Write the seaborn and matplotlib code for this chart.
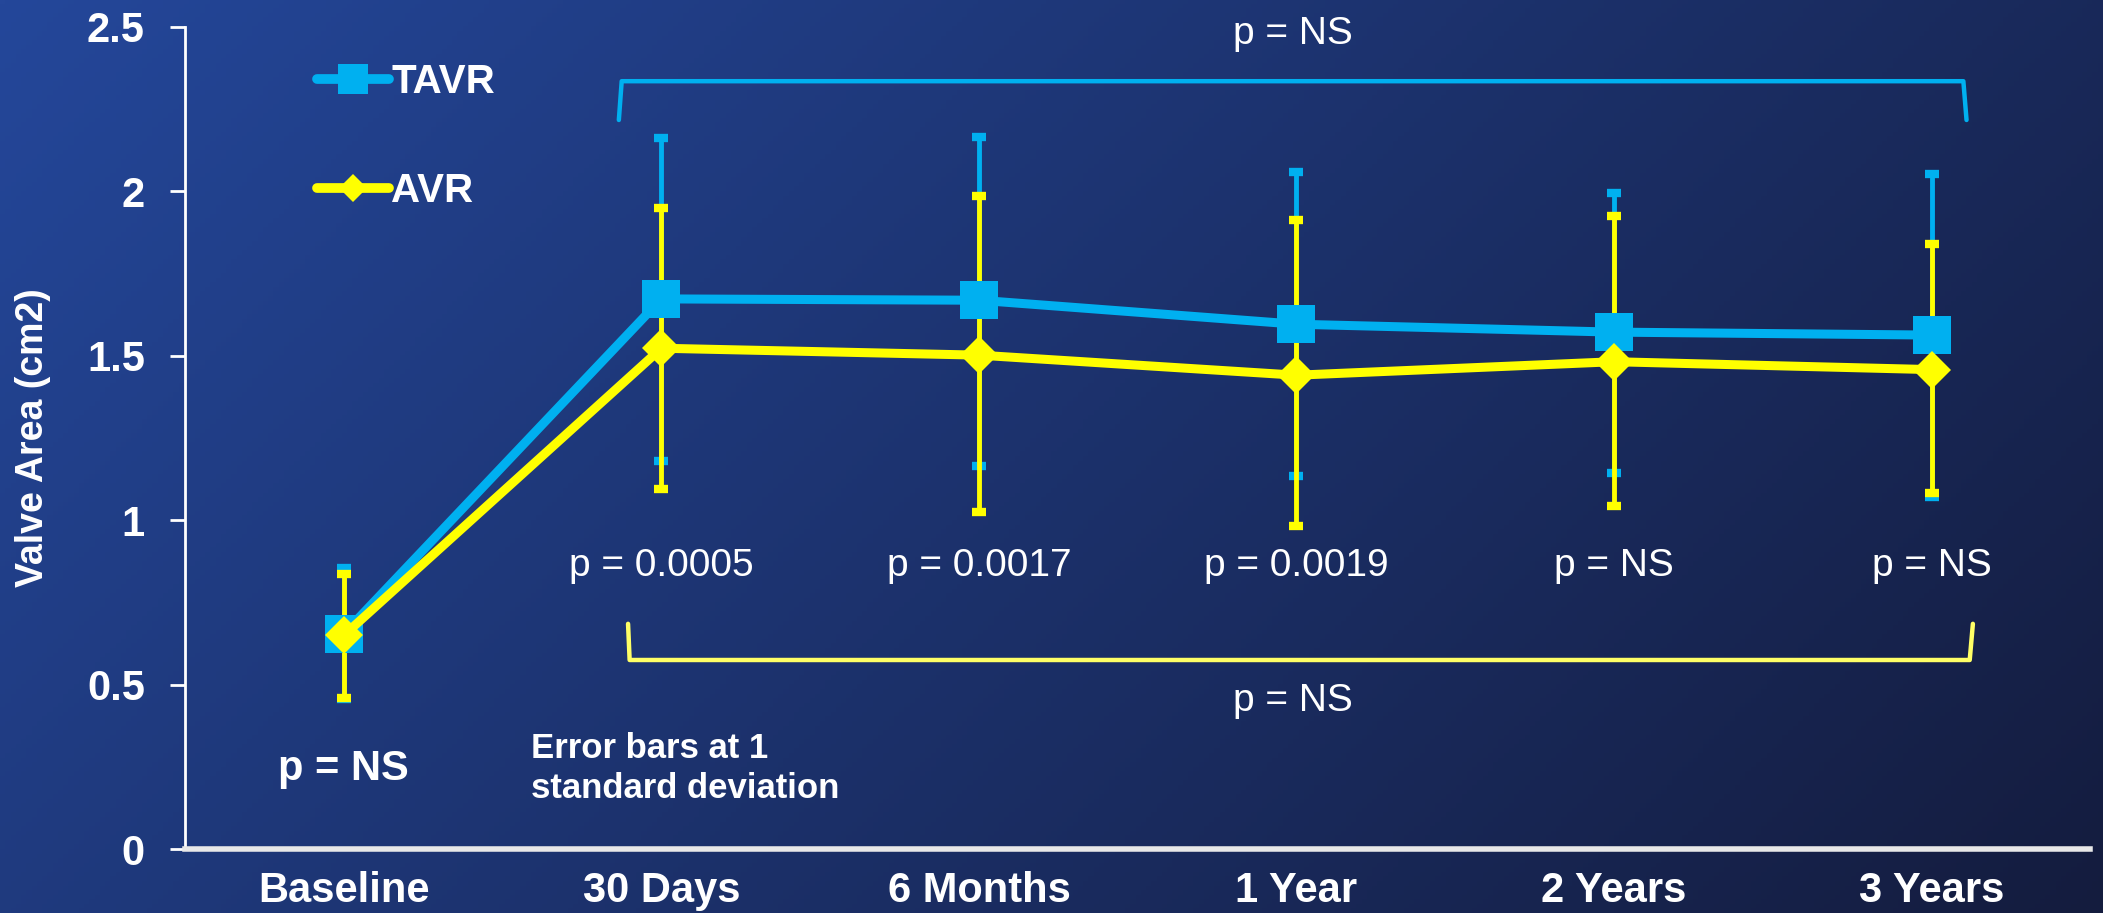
import matplotlib
matplotlib.use("Agg")
import matplotlib.pyplot as plt
import numpy as np
import pandas as pd
import seaborn as sns
from matplotlib import font_manager
from matplotlib.colors import to_hex
from matplotlib.lines import Line2D

# data
timepoints = ["Baseline", "30 Days", "6 Months", "1 Year", "2 Years", "3 Years"]
tavr_mean = [0.655, 1.673, 1.669, 1.596, 1.572, 1.563]
tavr_low = [0.455, 1.180, 1.165, 1.136, 1.144, 1.070]
tavr_high = [0.855, 2.162, 2.166, 2.060, 1.995, 2.052]
avr_mean = [0.650, 1.523, 1.502, 1.441, 1.482, 1.458]
avr_low = [0.460, 1.095, 1.026, 0.981, 1.042, 1.083]
avr_high = [0.835, 1.950, 1.987, 1.914, 1.926, 1.840]
p_values = ["", "p = 0.0005", "p = 0.0017", "p = 0.0019", "p = NS", "p = NS"]
y_ticks = [0, 0.5, 1, 1.5, 2, 2.5]
y_tick_labels = ["0", "0.5", "1", "1.5", "2", "2.5"]

CYAN = "#00b0f0"
YELLOW = "#ffff00"

sns.set_theme(style="white")
available = {f.name for f in font_manager.fontManager.ttflist}
narrow = "Liberation Sans Narrow" if "Liberation Sans Narrow" in available else "Liberation Sans"
plt.rcParams["font.family"] = ["Liberation Sans", "DejaVu Sans"]
narrow_size = 33 if narrow == "Liberation Sans Narrow" else 28

df = pd.DataFrame({
    "time": timepoints * 2,
    "area": tavr_mean + avr_mean,
    "group": ["TAVR"] * 6 + ["AVR"] * 6,
})

fig = plt.figure(figsize=(21.03, 9.13), dpi=100)

# diagonal blue gradient background
bg = fig.add_axes([0, 0, 1, 1], zorder=0)
gx, gy = np.meshgrid(np.linspace(0, 1, 400), np.linspace(0, 1, 200))
t = 0.7 * gx + 0.3 * gy
c0 = np.array([36, 71, 154]) / 255
c1 = np.array([20, 28, 62]) / 255
img = c0[None, None, :] * (1 - t[..., None]) + c1[None, None, :] * t[..., None]
bg.imshow(img, aspect="auto", extent=[0, 1, 0, 1], origin="upper")
bg.axis("off")

ax = fig.add_axes([0.088, 0.070, 0.906, 0.9005], zorder=1)
ax.set_facecolor("none")

x = np.arange(len(timepoints))
ax.errorbar(x, tavr_mean,
            yerr=[np.array(tavr_mean) - np.array(tavr_low), np.array(tavr_high) - np.array(tavr_mean)],
            fmt="none", ecolor=CYAN, elinewidth=3.5, capsize=5, capthick=6, zorder=2)
ax.errorbar(x, avr_mean,
            yerr=[np.array(avr_mean) - np.array(avr_low), np.array(avr_high) - np.array(avr_mean)],
            fmt="none", ecolor=YELLOW, elinewidth=3.5, capsize=5, capthick=6, zorder=3)

sns.lineplot(data=df, x="time", y="area", hue="group", style="group",
             markers={"TAVR": "s", "AVR": "D"}, dashes=False,
             palette={"TAVR": CYAN, "AVR": YELLOW}, linewidth=6.5,
             markersize=28, markeredgewidth=0, sort=False, legend=False, ax=ax, zorder=4)
for ln in ax.get_lines():
    if to_hex(ln.get_color()) == YELLOW:
        ln.set_zorder(5)
        ln.set_markersize(19)

ax.set_xlim(-0.5, 5.5)
ax.set_ylim(0, 2.5)
ax.set_yticks(y_ticks)
ax.set_yticklabels(y_tick_labels)
ax.set_xticks(x)
ax.set_xticklabels(timepoints)
ax.set_xticks(np.arange(-0.5, 6, 1), minor=True)
ax.tick_params(axis="x", which="major", length=0, pad=16, labelsize=30, labelcolor="white")
ax.tick_params(axis="x", which="minor", length=11, width=2, color="white", direction="out")
ax.tick_params(axis="y", which="major", length=11, width=2, color="white", direction="out",
               pad=18, labelsize=30, labelcolor="white")
ax.tick_params(left=True, bottom=True)
for lab in ax.get_xticklabels() + ax.get_yticklabels():
    lab.set_fontweight("bold")
for side in ["top", "right"]:
    ax.spines[side].set_visible(False)
ax.spines["left"].set_color("white")
ax.spines["left"].set_linewidth(2)
ax.spines["bottom"].set_color("#e8e8e8")
ax.spines["bottom"].set_linewidth(4)
ax.set_xlabel("")
ax.set_ylabel("Valve Area (cm2)", fontsize=27, fontweight="bold", color="white", labelpad=26)

# per-timepoint p values
for xi, p in zip(x, p_values):
    if p:
        ax.text(xi, 0.86, p, ha="center", va="center", color="white",
                fontsize=narrow_size, family=narrow)
ax.text(0, 0.245, "p = NS", ha="center", va="center", color="white",
        fontsize=30, fontweight="bold")
ax.text(0.59, 0.245, "Error bars at 1\nstandard deviation", ha="left", va="center",
        color="white", fontsize=25, fontweight="bold", linespacing=1.25)

# brackets for overall comparisons
ax.plot([0.866, 0.875, 5.1, 5.11], [2.217, 2.335, 2.335, 2.217], color=CYAN, lw=3.2,
        solid_joinstyle="round", zorder=1)
ax.text(2.99, 2.48, "p = NS", ha="center", va="center", color="white",
        fontsize=narrow_size, family=narrow)
ax.plot([0.895, 0.9, 5.12, 5.13], [0.685, 0.575, 0.575, 0.685], color="#ffff66", lw=3.2,
        solid_joinstyle="round", zorder=1)
ax.text(2.99, 0.45, "p = NS", ha="center", va="center", color="white",
        fontsize=narrow_size, family=narrow)

handles = [
    Line2D([], [], color=CYAN, lw=7, marker="s", markersize=22, markeredgewidth=0),
    Line2D([], [], color=YELLOW, lw=7, marker="D", markersize=14, markeredgewidth=0),
]
leg = ax.legend(handles, ["TAVR", "AVR"], loc="upper left", bbox_to_anchor=(0.05, 1.0),
                frameon=False, handlelength=1.8, handletextpad=0.05, labelspacing=1.75,
                prop={"size": 29, "weight": "bold"})
for txt in leg.get_texts():
    txt.set_color("white")

fig.savefig("out.png", dpi=100)
